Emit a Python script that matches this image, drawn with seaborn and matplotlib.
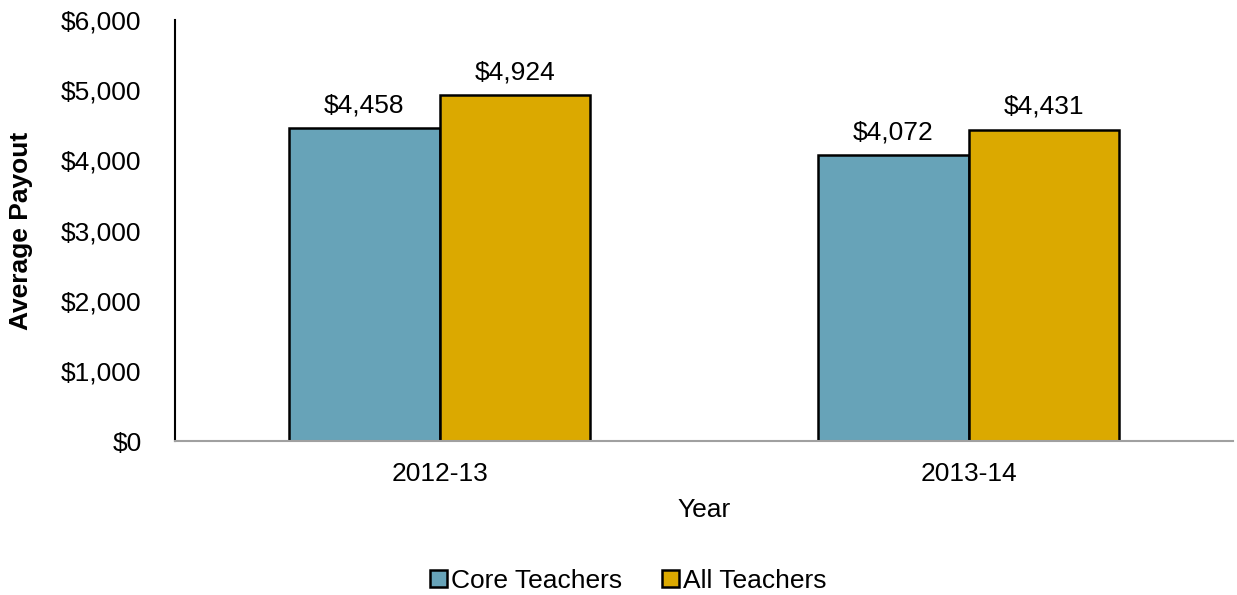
import matplotlib
matplotlib.use("Agg")
import matplotlib.pyplot as plt
import seaborn as sns
import pandas as pd
from matplotlib.ticker import FuncFormatter

years = ["2012-13", "2013-14"]
series = ["Core Teachers", "All Teachers"]
core_values = [4458, 4072]
all_values = [4924, 4431]
colors = ["#67A3B8", "#DBA900"]

df = pd.DataFrame({
    "Year": years * 2,
    "Group": [series[0]] * 2 + [series[1]] * 2,
    "Payout": core_values + all_values,
})

sns.set_theme(style="white")
plt.rcParams["font.family"] = ["Liberation Sans", "DejaVu Sans"]
plt.rcParams["text.color"] = "black"
plt.rcParams["axes.labelcolor"] = "black"
plt.rcParams["xtick.color"] = "black"
plt.rcParams["ytick.color"] = "black"

FS = 19

fig = plt.figure(figsize=(12.37, 5.95), dpi=100)
ax = fig.add_axes([0.1415, 0.2588, 0.8553, 0.7076])

sns.barplot(data=df, x="Year", y="Payout", hue="Group", palette=colors,
            width=0.57, edgecolor="black", linewidth=1.8, saturation=1,
            ax=ax, legend=True)

for c in ax.containers:
    ax.bar_label(c, labels=[f"${v:,.0f}" for v in c.datavalues],
                 padding=8, fontsize=FS, color="black")

ax.set_ylim(0, 6000)
ax.set_xlim(-0.5, 1.5)
ax.set_yticks(range(0, 6001, 1000))
ax.yaxis.set_major_formatter(FuncFormatter(lambda v, p: f"${v:,.0f}"))
ax.tick_params(axis="both", labelsize=FS, length=0)
ax.tick_params(axis="x", pad=15)
ax.tick_params(axis="y", pad=24)
ax.set_xlabel("Year", fontsize=FS, labelpad=9)
ax.set_ylabel("Average Payout", fontsize=FS, fontweight="bold", labelpad=20)

for s in ["top", "right"]:
    ax.spines[s].set_visible(False)
ax.spines["left"].set_color("black")
ax.spines["left"].set_linewidth(1.5)
ax.spines["bottom"].set_color("#A0A0A0")
ax.spines["bottom"].set_linewidth(1.5)

handles, labels = ax.get_legend_handles_labels()
ax.legend_.remove()
fig.legend(handles, labels, loc="center", bbox_to_anchor=(0.508, 0.024),
           ncol=2, frameon=False, fontsize=FS, handlelength=0.65,
           handleheight=0.65, handletextpad=0.15, columnspacing=1.5)

fig.savefig("out.png", dpi=100)
